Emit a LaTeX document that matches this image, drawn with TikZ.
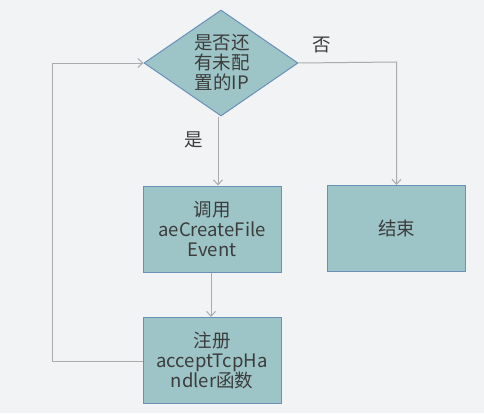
\documentclass[tikz,border=0pt]{standalone}
\usepackage{fontspec}
\setmainfont{Noto Sans CJK SC}
\usetikzlibrary{shapes.geometric,arrows.meta}
\definecolor{bg}{HTML}{F2F3F5}
\definecolor{boxfill}{HTML}{9DC5C7}
\definecolor{boxline}{HTML}{6A90B8}
\definecolor{conn}{HTML}{ABABAB}
\definecolor{txt}{HTML}{3C3C3C}
\begin{document}
\begin{tikzpicture}[x=1pt,y=-1pt,
  every node/.style={text=txt,font=\fontsize{18.5}{20}\selectfont},
  procbox/.style={draw=boxline,line width=1pt,fill=boxfill,minimum width=138pt,minimum height=86pt,inner sep=0pt,align=center},
  decbox/.style={draw=boxline,line width=1pt,fill=boxfill,diamond,minimum width=154pt,minimum height=106pt,inner sep=0pt,align=center,aspect=1.45},
  conline/.style={draw=conn,line width=1pt,-{Straight Barb[length=5pt,width=9pt]}}]
\fill[bg] (0,0) rectangle (484,413);
\useasboundingbox (0,0) rectangle (484,413);
\node[decbox] (d) at (221,63) {};
\node[align=center] (dt) at (222,62) {是否还\\有未配\\置的IP};
\node[procbox] (b1) at (212,229) {调用\\aeCreateFile\\Event};
\node[procbox] (b2) at (212,360.5) {注册\\acceptTcpHa\\ndler函数};
\node[procbox] (b3) at (396.5,228.5) {结束};
\coordinate (c1) at (396.5,62);
\coordinate (c2) at (52,361);
\coordinate (c3) at (52,63);
\draw[conline] (d.south -| 218,0) -- (b1.north -| 218,0);
\draw[conline] (b1.south -| 211,0) -- (b2.north -| 211,0);
\draw[conline] (d.east) -- (c1) -- (b3.north);
\draw[conline] (b2.west |- c2) -- (c2) -- (c3) -- (d.west);
\node (yes) at (194,140) {是};
\node (no) at (322,45) {否};
\end{tikzpicture}
\end{document}
